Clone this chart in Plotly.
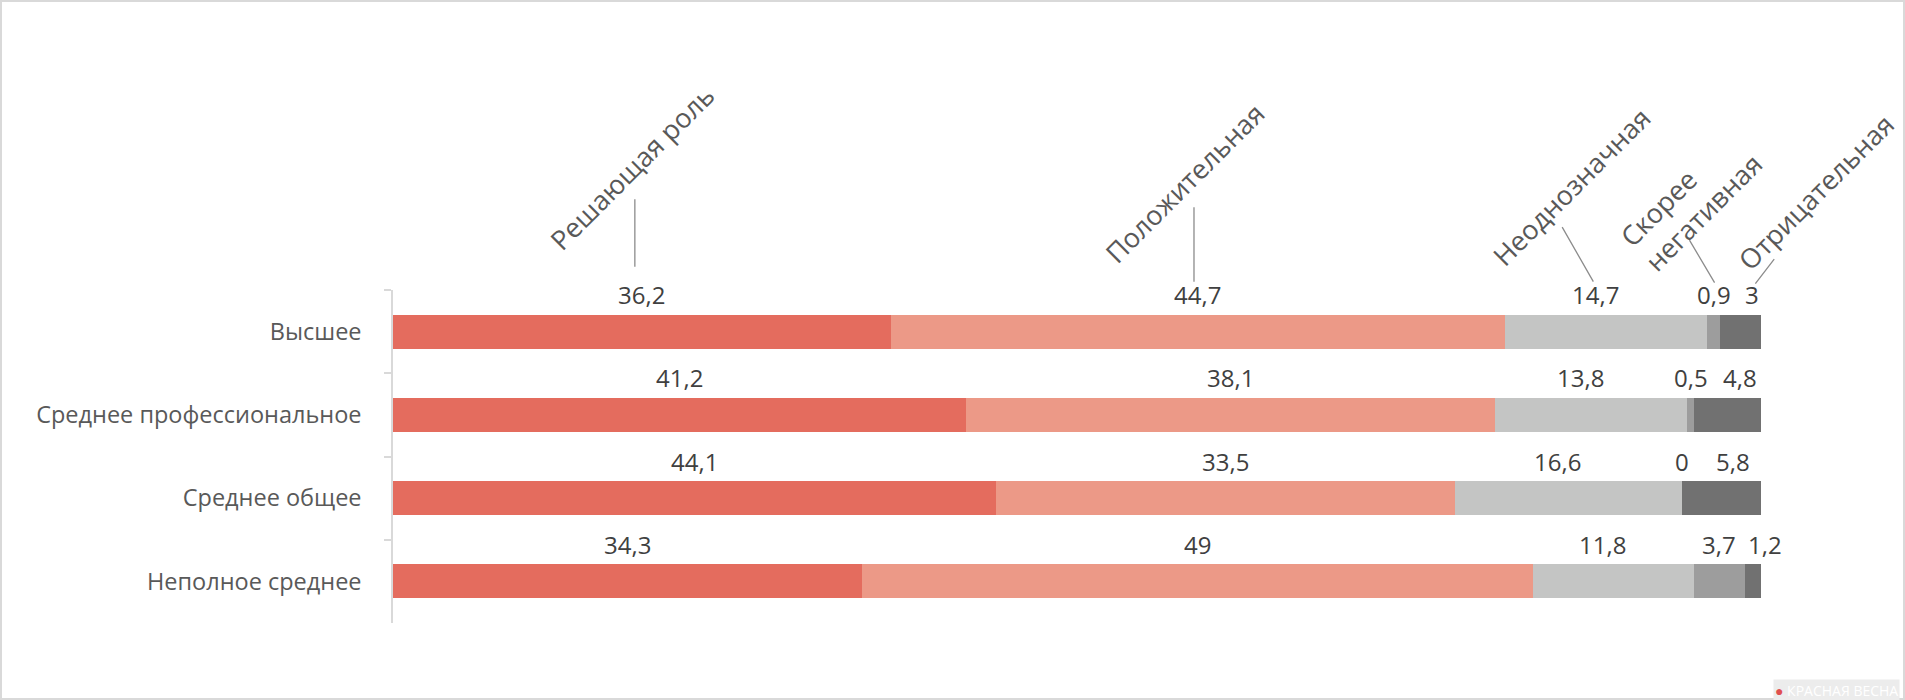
import plotly.graph_objects as go

categories = ["Высшее", "Среднее профессиональное", "Среднее общее", "Неполное среднее"]
series_names = ["Решающая роль", "Положительная", "Неоднозначная", "Скорее<br>негативная", "Отрицательная"]
reshayushchaya = [36.2, 41.2, 44.1, 34.3]
polozhitelnaya = [44.7, 38.1, 33.5, 49.0]
neodnoznachnaya = [14.7, 13.8, 16.6, 11.8]
skoree_negativnaya = [0.9, 0.5, 0.0, 3.7]
otritsatelnaya = [3.0, 4.8, 5.8, 1.2]

series_values = [reshayushchaya, polozhitelnaya, neodnoznachnaya, skoree_negativnaya, otritsatelnaya]
colors = ["#E46C5E", "#EC9987", "#C4C5C4", "#9D9D9D", "#717171"]

# style: pixel nudges of value labels per series (Excel overlap avoidance)
label_xshift = [0, 0, -11, 0, 12]
# style: series-name label offsets (px) relative to first-row segment centre
name_offsets = [(-10, 164), (-13, 149), (-35, 145), (-23, 132), (76, 140)]
# style: leader lines (tail offset, head offset) relative to first-row segment centre
leader = [((-7, 134), (-7, 65)), ((-4, 126), (-4, 50)), ((-45, 106), (-13, 50)),
          ((-25, 93), (1, 49)), ((35, 74), (15, 48))]

FONT_CAT = "Open Sans"
FONT_NUM = "Open Sans"

fig = go.Figure()
for name, vals, col in zip(series_names, series_values, colors):
    fig.add_trace(go.Bar(
        y=categories, x=vals, orientation="h", name=name.replace("<br>", " "),
        marker=dict(color=col, line=dict(width=0)),
    ))

def fmt(v):
    return f"{v:g}".replace(".", ",")

annotations = []
for r, cat in enumerate(categories):
    total = sum(s[r] for s in series_values)
    cum = 0.0
    for i, s in enumerate(series_values):
        v = s[r]
        centre = (cum + v / 2) / total * 100
        cum += v
        annotations.append(dict(
            x=centre, y=cat, xref="x", yref="y", text=fmt(v), showarrow=False,
            xshift=label_xshift[i], yshift=37,
            font=dict(family=FONT_NUM, size=24, color="#404040"),
        ))

# series-name labels and leader lines, anchored to the first row
r = 0
total = sum(s[r] for s in series_values)
cum = 0.0
for i, s in enumerate(series_values):
    v = s[r]
    centre = (cum + v / 2) / total * 100
    cum += v
    dx, dy = name_offsets[i]
    annotations.append(dict(
        x=centre, y=categories[r], xref="x", yref="y", text=series_names[i],
        showarrow=False, xshift=dx, yshift=dy, textangle=-45, align="left",
        font=dict(family=FONT_CAT, size=27, color="#595959"),
    ))
    (tx, ty), (hx, hy) = leader[i]
    annotations.append(dict(
        x=centre, y=categories[r], xref="x", yref="y", text="",
        showarrow=True, arrowhead=0, arrowwidth=1.3, arrowcolor="#8c8c8c",
        xshift=hx, yshift=hy, ax=tx - hx, ay=-(ty - hy), standoff=0, startstandoff=0,
    ))

L, R, T, B = 393, 144, 290, 77
W, H = 1905, 700
pw, ph = W - L - R, H - T - B

def px_x(px):
    return (px - L) / pw

def px_y(py):
    return (H - B - py) / ph

# watermark
annotations.append(dict(
    x=px_x(1900), y=px_y(690), xref="paper", yref="paper", xanchor="right", yanchor="middle",
    text="<span style='color:#e05050'>●</span> КРАСНАЯ ВЕСНА", showarrow=False,
    bgcolor="#ececec", font=dict(family="Open Sans", size=14, color="#ffffff"),
))

border = dict(type="rect", xref="paper", yref="paper",
              x0=px_x(1), x1=px_x(W - 1), y0=px_y(H - 1), y1=px_y(1),
              line=dict(color="#d9d9d9", width=2), layer="below")

fig.update_layout(
    barmode="stack", barnorm="percent", bargap=0.59,
    width=W, height=H, margin=dict(l=L, r=R, t=T, b=B),
    paper_bgcolor="white", plot_bgcolor="white", showlegend=False,
    xaxis=dict(range=[0, 100], visible=False, showgrid=False, zeroline=False, fixedrange=True),
    yaxis=dict(range=[len(categories) - 0.5, -0.5], autorange=False,
               showgrid=False, zeroline=False,
               showline=True, linecolor="#d9d9d9", linewidth=1.5,
               ticks="outside", ticklen=7, tickcolor="#d9d9d9", tickwidth=1.5,
               tickson="boundaries", ticklabelstandoff=25,
               tickfont=dict(family=FONT_CAT, size=23.5, color="#595959")),
    annotations=annotations, shapes=[border],
)

fig.write_html("out.html")
